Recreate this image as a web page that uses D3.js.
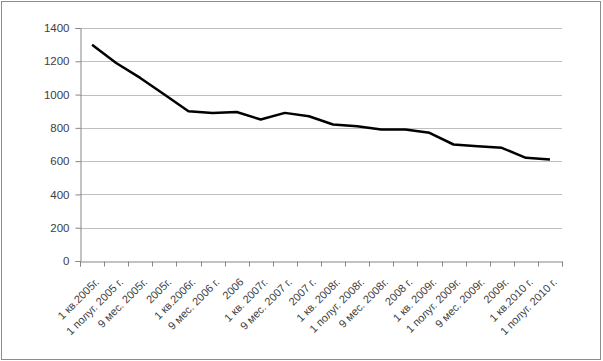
<!DOCTYPE html>
<html><head><meta charset="utf-8">
<script src="https://cdn.jsdelivr.net/npm/d3@7"></script>
<style>body{margin:0;background:#fff}svg{display:block}text{font-family:"Liberation Sans",Arial,sans-serif;fill:#404040}</style>
</head><body><svg id="c" width="603" height="361"></svg>
<script>
const categories = ["1 кв.2005г.","1 полуг. 2005 г.","9 мес. 2005г.","2005г.","1 кв.2006г.","9 мес. 2006 г.","2006","1 кв. 2007г.","9 мес. 2007 г.","2007 г.","1 кв. 2008г.","1 полуг. 2008г.","9 мес. 2008г.","2008 г.","1 кв. 2009г.","1 полуг. 2009г.","9 мес. 2009г.","2009г.","1 кв.2010 г.","1 полуг. 2010 г."];
const values = [1300,1190,1100,1000,900,890,895,850,890,870,820,810,790,790,770,700,690,680,620,610];
const yTicks = [0,200,400,600,800,1000,1200,1400];

const svg = d3.select("#c");
svg.append("rect").attr("x",1.5).attr("y",1.5).attr("width",599).attr("height",358)
  .attr("fill","#fff").attr("stroke","#8c8c8c").attr("stroke-width",1);

const m = {l:80, r:562, t:28, b:261};
const x = d3.scaleBand().domain(categories).range([m.l, m.r]);
const y = d3.scaleLinear().domain([0,1400]).range([m.b, m.t]);

// gridlines
svg.append("g").selectAll("line").data(yTicks.filter(d=>d>0)).join("line")
  .attr("x1",m.l).attr("x2",m.r).attr("y1",d=>Math.round(y(d))+0.5).attr("y2",d=>Math.round(y(d))+0.5)
  .attr("stroke","#bfbfbf").attr("stroke-width",1);

// y axis
const ya = svg.append("g").attr("transform",`translate(${m.l+0.5},0)`)
  .call(d3.axisLeft(y).tickValues(yTicks).tickSize(5).tickPadding(6).tickFormat(d3.format("d")));
ya.select(".domain").attr("stroke","#868686");
ya.selectAll(".tick line").attr("stroke","#868686");
ya.selectAll(".tick text").attr("font-size",11.5).attr("fill","#404040").attr("font-family","Liberation Sans, Arial, sans-serif");

// x axis
const xa = svg.append("g").attr("transform",`translate(0,${m.b+0.5})`)
  .call(d3.axisBottom(x).tickSize(5).tickFormat(()=>""));
xa.select(".domain").attr("stroke","#868686");
xa.selectAll(".tick").remove();
const edges = d3.range(categories.length+1).map(i=>m.l + i*x.step());
xa.selectAll("line.t").data(edges).join("line").attr("class","t")
  .attr("x1",d=>Math.round(d)+0.5).attr("x2",d=>Math.round(d)+0.5).attr("y1",0).attr("y2",5).attr("stroke","#868686");

svg.append("g").selectAll("text").data(categories).join("text")
  .attr("transform",d=>`translate(${x(d)+x.bandwidth()/2+5},${m.b+19}) rotate(-45)`)
  .attr("text-anchor","end").attr("dy","0.35em").attr("font-size",11).text(d=>d);

// line
const line = d3.line().x((d,i)=>x(categories[i])+x.bandwidth()/2).y(d=>y(d));
svg.append("path").datum(values).attr("d",line).attr("fill","none")
  .attr("stroke","#000").attr("stroke-width",2.5).attr("stroke-linejoin","round");
</script></body></html>
